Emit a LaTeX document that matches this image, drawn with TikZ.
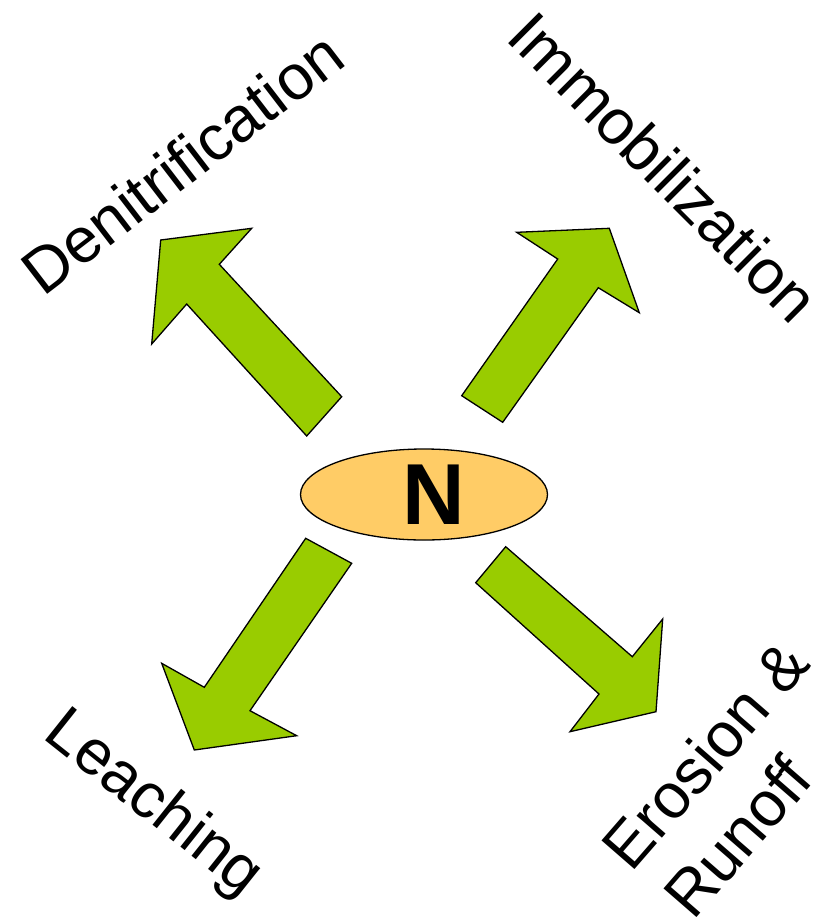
\documentclass[tikz,border=0pt]{standalone}
\usepackage{fontspec}
\setmainfont{Liberation Sans}
\usetikzlibrary{shapes.geometric}
\definecolor{arrowgreen}{HTML}{99CC00}
\definecolor{nodeorange}{HTML}{FFCC66}
\begin{document}
\begin{tikzpicture}[x=1pt,y=-1pt,
  bigarrow/.style={draw=black, line width=1.3pt, line join=miter, fill=arrowgreen},
  lbl/.style={inner sep=0pt, anchor=base west, font=\fontsize{63.5}{76}\selectfont},
  centre/.style={ellipse, draw=black, line width=1.3pt, fill=nodeorange, minimum width=247pt, minimum height=91pt, inner sep=0pt, font=\bfseries\fontsize{86.6}{90}\selectfont}]
\useasboundingbox (0,0) rectangle (821,922);
% arrows
\draw[bigarrow] (160.7,240) -- (251.7,228.3) -- (219.3,264.3) -- (341.7,396.7) -- (306.7,436) -- (186.7,304) -- (151.7,344) -- cycle;
\draw[bigarrow] (609.3,228.3) -- (639.3,312.7) -- (598.3,287.7) -- (502.7,422.3) -- (461.7,395.7) -- (557.7,259) -- (516.7,232.3) -- cycle;
\draw[bigarrow] (194.3,750) -- (161.7,663.3) -- (204.3,687.3) -- (305.7,538.3) -- (351.7,563.3) -- (250,710.7) -- (296.7,735.7) -- cycle;
\draw[bigarrow] (656,711.7) -- (570,731.7) -- (599,694) -- (475.7,582.7) -- (505.7,546.7) -- (632.3,656.7) -- (662.7,619) -- cycle;
% centre
\node[centre] (n) at (424,494.5) {\hspace*{20pt}N};
% labels
\node[lbl, rotate=37.5] (denit) at (42.9,297.9) {Denitrification};
\node[lbl, rotate=-45] (immob) at (504,39) {Immobilization};
\node[lbl, rotate=-38.5] (leach) at (41.5,737) {Leaching};
\node[lbl, rotate=49] (eros) at (631.7,873.8) {Erosion \&};
\node[lbl, rotate=49] (runoff) at (693.4,922) {Runoff};
\end{tikzpicture}
\end{document}
